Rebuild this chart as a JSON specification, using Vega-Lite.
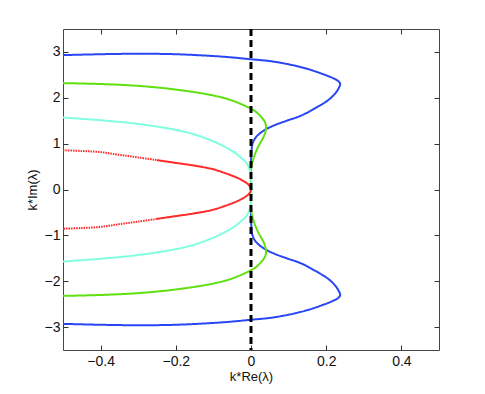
{
  "$schema": "https://vega.github.io/schema/vega-lite/v6.json",
  "width": 376,
  "height": 321,
  "autosize": "none",
  "padding": {"left": 63, "top": 29, "right": 46, "bottom": 44},
  "background": "white",
  "config": {
    "view": {"stroke": "#444", "strokeWidth": 1},
    "font": "Liberation Sans",
    "axis": {
      "grid": false,
      "domain": false,
      "tickSize": -5,
      "tickColor": "#333",
      "tickWidth": 1,
      "labelFont": "Liberation Sans",
      "labelFontSize": 14,
      "labelColor": "#111",
      "titleFont": "Liberation Sans",
      "titleFontSize": 13,
      "titleFontWeight": "normal",
      "titleColor": "#111"
    }
  },
  "datasets": {
    "curves": [
      {"c": "blue", "seg": "b", "st": "solid", "i": 1, "x": -0.5, "y": 2.93},
      {"c": "blue", "seg": "b", "st": "solid", "i": 2, "x": -0.4, "y": 2.95},
      {"c": "blue", "seg": "b", "st": "solid", "i": 3, "x": -0.3, "y": 2.96},
      {"c": "blue", "seg": "b", "st": "solid", "i": 4, "x": -0.2, "y": 2.95},
      {"c": "blue", "seg": "b", "st": "solid", "i": 5, "x": -0.1, "y": 2.91},
      {"c": "blue", "seg": "b", "st": "solid", "i": 6, "x": -0.05, "y": 2.88},
      {"c": "blue", "seg": "b", "st": "solid", "i": 7, "x": 0, "y": 2.84},
      {"c": "blue", "seg": "b", "st": "solid", "i": 8, "x": 0.05, "y": 2.8},
      {"c": "blue", "seg": "b", "st": "solid", "i": 9, "x": 0.1, "y": 2.73},
      {"c": "blue", "seg": "b", "st": "solid", "i": 10, "x": 0.15, "y": 2.63},
      {"c": "blue", "seg": "b", "st": "solid", "i": 11, "x": 0.19, "y": 2.52},
      {"c": "blue", "seg": "b", "st": "solid", "i": 12, "x": 0.215, "y": 2.44},
      {"c": "blue", "seg": "b", "st": "solid", "i": 13, "x": 0.231, "y": 2.37},
      {"c": "blue", "seg": "b", "st": "solid", "i": 14, "x": 0.237, "y": 2.31},
      {"c": "blue", "seg": "b", "st": "solid", "i": 15, "x": 0.232, "y": 2.19},
      {"c": "blue", "seg": "b", "st": "solid", "i": 16, "x": 0.219, "y": 2.05},
      {"c": "blue", "seg": "b", "st": "solid", "i": 17, "x": 0.204, "y": 1.94},
      {"c": "blue", "seg": "b", "st": "solid", "i": 18, "x": 0.17, "y": 1.77},
      {"c": "blue", "seg": "b", "st": "solid", "i": 19, "x": 0.133, "y": 1.61},
      {"c": "blue", "seg": "b", "st": "solid", "i": 20, "x": 0.095, "y": 1.5},
      {"c": "blue", "seg": "b", "st": "solid", "i": 21, "x": 0.062, "y": 1.4},
      {"c": "blue", "seg": "b", "st": "solid", "i": 22, "x": 0.035, "y": 1.29},
      {"c": "blue", "seg": "b", "st": "solid", "i": 23, "x": 0.013, "y": 1.14},
      {"c": "blue", "seg": "b", "st": "solid", "i": 24, "x": 0.004, "y": 1.0},
      {"c": "blue", "seg": "b", "st": "solid", "i": 25, "x": 0.001, "y": 0.8},
      {"c": "blue", "seg": "b", "st": "solid", "i": 26, "x": 0, "y": 0.6},
      {"c": "blue", "seg": "b", "st": "solid", "i": 27, "x": 0, "y": 0},
      {"c": "blue", "seg": "b", "st": "solid", "i": 28, "x": 0, "y": -0.6},
      {"c": "blue", "seg": "b", "st": "solid", "i": 29, "x": 0.001, "y": -0.8},
      {"c": "blue", "seg": "b", "st": "solid", "i": 30, "x": 0.004, "y": -1.0},
      {"c": "blue", "seg": "b", "st": "solid", "i": 31, "x": 0.013, "y": -1.14},
      {"c": "blue", "seg": "b", "st": "solid", "i": 32, "x": 0.035, "y": -1.29},
      {"c": "blue", "seg": "b", "st": "solid", "i": 33, "x": 0.062, "y": -1.4},
      {"c": "blue", "seg": "b", "st": "solid", "i": 34, "x": 0.095, "y": -1.5},
      {"c": "blue", "seg": "b", "st": "solid", "i": 35, "x": 0.133, "y": -1.61},
      {"c": "blue", "seg": "b", "st": "solid", "i": 36, "x": 0.17, "y": -1.77},
      {"c": "blue", "seg": "b", "st": "solid", "i": 37, "x": 0.204, "y": -1.94},
      {"c": "blue", "seg": "b", "st": "solid", "i": 38, "x": 0.219, "y": -2.05},
      {"c": "blue", "seg": "b", "st": "solid", "i": 39, "x": 0.232, "y": -2.19},
      {"c": "blue", "seg": "b", "st": "solid", "i": 40, "x": 0.237, "y": -2.31},
      {"c": "blue", "seg": "b", "st": "solid", "i": 41, "x": 0.231, "y": -2.37},
      {"c": "blue", "seg": "b", "st": "solid", "i": 42, "x": 0.215, "y": -2.44},
      {"c": "blue", "seg": "b", "st": "solid", "i": 43, "x": 0.19, "y": -2.52},
      {"c": "blue", "seg": "b", "st": "solid", "i": 44, "x": 0.15, "y": -2.63},
      {"c": "blue", "seg": "b", "st": "solid", "i": 45, "x": 0.1, "y": -2.73},
      {"c": "blue", "seg": "b", "st": "solid", "i": 46, "x": 0.05, "y": -2.8},
      {"c": "blue", "seg": "b", "st": "solid", "i": 47, "x": 0, "y": -2.84},
      {"c": "blue", "seg": "b", "st": "solid", "i": 48, "x": -0.05, "y": -2.88},
      {"c": "blue", "seg": "b", "st": "solid", "i": 49, "x": -0.1, "y": -2.91},
      {"c": "blue", "seg": "b", "st": "solid", "i": 50, "x": -0.2, "y": -2.95},
      {"c": "blue", "seg": "b", "st": "solid", "i": 51, "x": -0.3, "y": -2.96},
      {"c": "blue", "seg": "b", "st": "solid", "i": 52, "x": -0.4, "y": -2.95},
      {"c": "blue", "seg": "b", "st": "solid", "i": 53, "x": -0.5, "y": -2.93},

      {"c": "green", "seg": "g", "st": "solid", "i": 1, "x": -0.5, "y": 2.32},
      {"c": "green", "seg": "g", "st": "solid", "i": 2, "x": -0.4, "y": 2.3},
      {"c": "green", "seg": "g", "st": "solid", "i": 3, "x": -0.3, "y": 2.26},
      {"c": "green", "seg": "g", "st": "solid", "i": 4, "x": -0.2, "y": 2.18},
      {"c": "green", "seg": "g", "st": "solid", "i": 5, "x": -0.1, "y": 2.05},
      {"c": "green", "seg": "g", "st": "solid", "i": 6, "x": -0.05, "y": 1.94},
      {"c": "green", "seg": "g", "st": "solid", "i": 7, "x": 0, "y": 1.76},
      {"c": "green", "seg": "g", "st": "solid", "i": 8, "x": 0.012, "y": 1.7},
      {"c": "green", "seg": "g", "st": "solid", "i": 9, "x": 0.024, "y": 1.61},
      {"c": "green", "seg": "g", "st": "solid", "i": 10, "x": 0.037, "y": 1.47},
      {"c": "green", "seg": "g", "st": "solid", "i": 11, "x": 0.04, "y": 1.36},
      {"c": "green", "seg": "g", "st": "solid", "i": 12, "x": 0.038, "y": 1.25},
      {"c": "green", "seg": "g", "st": "solid", "i": 13, "x": 0.033, "y": 1.14},
      {"c": "green", "seg": "g", "st": "solid", "i": 14, "x": 0.019, "y": 0.93},
      {"c": "green", "seg": "g", "st": "solid", "i": 15, "x": 0.008, "y": 0.71},
      {"c": "green", "seg": "g", "st": "solid", "i": 16, "x": 0.001, "y": 0.49},
      {"c": "green", "seg": "g", "st": "solid", "i": 17, "x": 0, "y": 0.28},
      {"c": "green", "seg": "g", "st": "solid", "i": 18, "x": 0, "y": -0.28},
      {"c": "green", "seg": "g", "st": "solid", "i": 19, "x": 0.001, "y": -0.49},
      {"c": "green", "seg": "g", "st": "solid", "i": 20, "x": 0.008, "y": -0.71},
      {"c": "green", "seg": "g", "st": "solid", "i": 21, "x": 0.019, "y": -0.93},
      {"c": "green", "seg": "g", "st": "solid", "i": 22, "x": 0.033, "y": -1.14},
      {"c": "green", "seg": "g", "st": "solid", "i": 23, "x": 0.038, "y": -1.25},
      {"c": "green", "seg": "g", "st": "solid", "i": 24, "x": 0.04, "y": -1.36},
      {"c": "green", "seg": "g", "st": "solid", "i": 25, "x": 0.037, "y": -1.47},
      {"c": "green", "seg": "g", "st": "solid", "i": 26, "x": 0.024, "y": -1.61},
      {"c": "green", "seg": "g", "st": "solid", "i": 27, "x": 0.012, "y": -1.7},
      {"c": "green", "seg": "g", "st": "solid", "i": 28, "x": 0, "y": -1.76},
      {"c": "green", "seg": "g", "st": "solid", "i": 29, "x": -0.05, "y": -1.94},
      {"c": "green", "seg": "g", "st": "solid", "i": 30, "x": -0.1, "y": -2.05},
      {"c": "green", "seg": "g", "st": "solid", "i": 31, "x": -0.2, "y": -2.18},
      {"c": "green", "seg": "g", "st": "solid", "i": 32, "x": -0.3, "y": -2.26},
      {"c": "green", "seg": "g", "st": "solid", "i": 33, "x": -0.4, "y": -2.3},
      {"c": "green", "seg": "g", "st": "solid", "i": 34, "x": -0.5, "y": -2.32},

      {"c": "cyan", "seg": "c", "st": "solid", "i": 1, "x": -0.5, "y": 1.57},
      {"c": "cyan", "seg": "c", "st": "solid", "i": 2, "x": -0.4, "y": 1.51},
      {"c": "cyan", "seg": "c", "st": "solid", "i": 3, "x": -0.3, "y": 1.43},
      {"c": "cyan", "seg": "c", "st": "solid", "i": 4, "x": -0.2, "y": 1.3},
      {"c": "cyan", "seg": "c", "st": "solid", "i": 5, "x": -0.15, "y": 1.2},
      {"c": "cyan", "seg": "c", "st": "solid", "i": 6, "x": -0.1, "y": 1.05},
      {"c": "cyan", "seg": "c", "st": "solid", "i": 7, "x": -0.079, "y": 0.97},
      {"c": "cyan", "seg": "c", "st": "solid", "i": 8, "x": -0.05, "y": 0.84},
      {"c": "cyan", "seg": "c", "st": "solid", "i": 9, "x": -0.039, "y": 0.78},
      {"c": "cyan", "seg": "c", "st": "solid", "i": 10, "x": -0.025, "y": 0.68},
      {"c": "cyan", "seg": "c", "st": "solid", "i": 11, "x": -0.012, "y": 0.58},
      {"c": "cyan", "seg": "c", "st": "solid", "i": 12, "x": -0.004, "y": 0.44},
      {"c": "cyan", "seg": "c", "st": "solid", "i": 13, "x": 0, "y": 0.3},
      {"c": "cyan", "seg": "c", "st": "solid", "i": 14, "x": 0, "y": -0.3},
      {"c": "cyan", "seg": "c", "st": "solid", "i": 15, "x": -0.004, "y": -0.44},
      {"c": "cyan", "seg": "c", "st": "solid", "i": 16, "x": -0.012, "y": -0.58},
      {"c": "cyan", "seg": "c", "st": "solid", "i": 17, "x": -0.025, "y": -0.68},
      {"c": "cyan", "seg": "c", "st": "solid", "i": 18, "x": -0.039, "y": -0.78},
      {"c": "cyan", "seg": "c", "st": "solid", "i": 19, "x": -0.05, "y": -0.84},
      {"c": "cyan", "seg": "c", "st": "solid", "i": 20, "x": -0.079, "y": -0.97},
      {"c": "cyan", "seg": "c", "st": "solid", "i": 21, "x": -0.1, "y": -1.05},
      {"c": "cyan", "seg": "c", "st": "solid", "i": 22, "x": -0.15, "y": -1.2},
      {"c": "cyan", "seg": "c", "st": "solid", "i": 23, "x": -0.2, "y": -1.3},
      {"c": "cyan", "seg": "c", "st": "solid", "i": 24, "x": -0.3, "y": -1.43},
      {"c": "cyan", "seg": "c", "st": "solid", "i": 25, "x": -0.4, "y": -1.51},
      {"c": "cyan", "seg": "c", "st": "solid", "i": 26, "x": -0.5, "y": -1.57},

      {"c": "red", "seg": "rdu", "st": "dot", "i": 1, "x": -0.5, "y": 0.855},
      {"c": "red", "seg": "rdu", "st": "dot", "i": 2, "x": -0.45, "y": 0.84},
      {"c": "red", "seg": "rdu", "st": "dot", "i": 3, "x": -0.4, "y": 0.815},
      {"c": "red", "seg": "rdu", "st": "dot", "i": 4, "x": -0.35, "y": 0.755},
      {"c": "red", "seg": "rdu", "st": "dot", "i": 5, "x": -0.3, "y": 0.7},
      {"c": "red", "seg": "rdu", "st": "dot", "i": 6, "x": -0.25, "y": 0.64},
      {"c": "red", "seg": "rs", "st": "solid", "i": 1, "x": -0.25, "y": 0.64},
      {"c": "red", "seg": "rs", "st": "solid", "i": 2, "x": -0.2, "y": 0.58},
      {"c": "red", "seg": "rs", "st": "solid", "i": 3, "x": -0.15, "y": 0.52},
      {"c": "red", "seg": "rs", "st": "solid", "i": 4, "x": -0.1, "y": 0.44},
      {"c": "red", "seg": "rs", "st": "solid", "i": 5, "x": -0.07, "y": 0.36},
      {"c": "red", "seg": "rs", "st": "solid", "i": 6, "x": -0.05, "y": 0.3},
      {"c": "red", "seg": "rs", "st": "solid", "i": 7, "x": -0.03, "y": 0.23},
      {"c": "red", "seg": "rs", "st": "solid", "i": 8, "x": -0.015, "y": 0.16},
      {"c": "red", "seg": "rs", "st": "solid", "i": 9, "x": -0.005, "y": 0.09},
      {"c": "red", "seg": "rs", "st": "solid", "i": 10, "x": 0, "y": 0},
      {"c": "red", "seg": "rs", "st": "solid", "i": 11, "x": -0.005, "y": -0.09},
      {"c": "red", "seg": "rs", "st": "solid", "i": 12, "x": -0.015, "y": -0.16},
      {"c": "red", "seg": "rs", "st": "solid", "i": 13, "x": -0.03, "y": -0.23},
      {"c": "red", "seg": "rs", "st": "solid", "i": 14, "x": -0.05, "y": -0.3},
      {"c": "red", "seg": "rs", "st": "solid", "i": 15, "x": -0.07, "y": -0.36},
      {"c": "red", "seg": "rs", "st": "solid", "i": 16, "x": -0.1, "y": -0.44},
      {"c": "red", "seg": "rs", "st": "solid", "i": 17, "x": -0.15, "y": -0.52},
      {"c": "red", "seg": "rs", "st": "solid", "i": 18, "x": -0.2, "y": -0.58},
      {"c": "red", "seg": "rs", "st": "solid", "i": 19, "x": -0.25, "y": -0.64},
      {"c": "red", "seg": "rdd", "st": "dot", "i": 1, "x": -0.25, "y": -0.64},
      {"c": "red", "seg": "rdd", "st": "dot", "i": 2, "x": -0.3, "y": -0.7},
      {"c": "red", "seg": "rdd", "st": "dot", "i": 3, "x": -0.35, "y": -0.755},
      {"c": "red", "seg": "rdd", "st": "dot", "i": 4, "x": -0.4, "y": -0.815},
      {"c": "red", "seg": "rdd", "st": "dot", "i": 5, "x": -0.45, "y": -0.84},
      {"c": "red", "seg": "rdd", "st": "dot", "i": 6, "x": -0.5, "y": -0.855}
    ],
    "zero": [{"x": 0}]
  },
  "layer": [
    {
      "data": {"name": "curves"},
      "mark": {"type": "line", "strokeWidth": 2, "interpolate": "catmull-rom", "clip": true},
      "encoding": {
        "x": {"field": "x", "type": "quantitative", "scale": {"domain": [-0.5, 0.5], "nice": false, "zero": false},
              "axis": {"orient": "bottom", "values": [-0.4, -0.2, 0, 0.2, 0.4], "format": "~g", "title": "k*Re(λ)", "labelPadding": 9, "titlePadding": 2}},
        "y": {"field": "y", "type": "quantitative", "scale": {"domain": [-3.5, 3.5], "nice": false, "zero": false},
              "axis": {"orient": "left", "values": [-3, -2, -1, 0, 1, 2, 3], "format": "d", "title": "k*Im(λ)", "labelPadding": 8, "titlePadding": 5}},
        "color": {"field": "c", "type": "nominal", "legend": null,
                  "scale": {"domain": ["blue", "green", "cyan", "red"], "range": ["#2a45f5", "#5fe00f", "#80ffe0", "#ff2a2a"]}},
        "strokeDash": {"field": "st", "type": "nominal", "legend": null,
                       "scale": {"domain": ["solid", "dot"], "range": [[1, 0], [1.5, 1]]}},
        "detail": {"field": "seg"},
        "order": {"field": "i", "type": "quantitative"}
      }
    },
    {
      "data": {"name": "zero"},
      "mark": {"type": "rule", "color": "black", "strokeWidth": 3, "strokeDash": [7, 4]},
      "encoding": {
        "x": {"field": "x", "type": "quantitative",
              "axis": {"orient": "top", "values": [-0.4, -0.2, 0, 0.2, 0.4], "labels": false, "title": null}}
      }
    },
    {
      "data": {"name": "curves"},
      "mark": {"type": "point", "opacity": 0},
      "encoding": {
        "x": {"field": "x", "type": "quantitative", "axis": null},
        "y": {"field": "y", "type": "quantitative",
              "axis": {"orient": "right", "values": [-3, -2, -1, 0, 1, 2, 3], "labels": false, "title": null}}
      }
    }
  ],
  "resolve": {"axis": {"x": "independent", "y": "independent"}}
}
